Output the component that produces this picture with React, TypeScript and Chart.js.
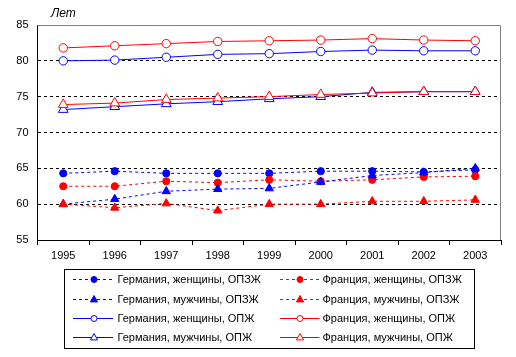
import React, { useEffect, useRef } from "react";
import { Chart, registerables } from "chart.js";

Chart.register(...registerables);

const years = ["1995", "1996", "1997", "1998", "1999", "2000", "2001", "2002", "2003"];
const yTicks = [55, 60, 65, 70, 75, 80, 85];

const deWomenHealthy = [64.3, 64.6, 64.3, 64.3, 64.3, 64.6, 64.6, 64.5, 64.8];
const frWomenHealthy = [62.5, 62.5, 63.2, 63.0, 63.4, 63.2, 63.4, 63.8, 63.9];
const deMenHealthy = [60.0, 60.7, 61.8, 62.1, 62.2, 63.1, 64.0, 64.4, 65.0];
const frMenHealthy = [60.0, 59.5, 60.1, 59.1, 60.0, 60.0, 60.4, 60.4, 60.6];
const deWomenLife = [80.0, 80.1, 80.5, 80.9, 81.0, 81.3, 81.5, 81.4, 81.4];
const frWomenLife = [81.8, 82.1, 82.4, 82.7, 82.8, 82.9, 83.1, 82.9, 82.8];
const deMenLife = [73.2, 73.6, 74.0, 74.3, 74.7, 75.0, 75.6, 75.7, 75.7];
const frMenLife = [73.9, 74.1, 74.6, 74.8, 75.0, 75.3, 75.5, 75.7, 75.7];

const labels = [
  "Германия, женщины, ОПЗЖ",
  "Франция, женщины, ОПЗЖ",
  "Германия, мужчины, ОПЗЖ",
  "Франция, мужчины, ОПЗЖ",
  "Германия, женщины, ОПЖ",
  "Франция, женщины, ОПЖ",
  "Германия, мужчины, ОПЖ",
  "Франция, мужчины, ОПЖ",
];
const axisTitle = "Лет";

const BLUE = "#0000FF";
const RED = "#FF0000";
const FONT = "'Liberation Sans', Arial, sans-serif";

export default function App() {
  const ref = useRef<HTMLCanvasElement | null>(null);

  useEffect(() => {
    if (!ref.current) return;
    const series = [deWomenHealthy, frWomenHealthy, deMenHealthy, frMenHealthy, deWomenLife, frWomenLife, deMenLife, frMenLife];
    const datasets = series.map((data, i) => {
      const color = i % 2 === 0 ? BLUE : RED;
      const healthy = i < 4;
      const tri = i % 4 >= 2;
      return {
        label: labels[i],
        data,
        borderColor: color,
        borderWidth: 1,
        borderDash: healthy ? [3, 3] : [],
        pointStyle: tri ? "triangle" : "circle",
        pointRadius: tri ? (healthy ? 4.8 : 5.6) : healthy ? 3.6 : 4.2,
        pointBackgroundColor: healthy ? color : "#FFFFFF",
        pointBorderColor: color,
        pointBorderWidth: 1,
        tension: 0,
        fill: false,
        order: 10 - i,
        _healthy: healthy,
        _tri: tri,
        _color: color,
      } as any;
    });

    const extras = {
      id: "extras",
      beforeDatasetsDraw(chart: any) {
        const { ctx, chartArea } = chart;
        ctx.save();
        ctx.strokeStyle = "#808080";
        ctx.lineWidth = 1;
        ctx.beginPath();
        ctx.moveTo(chartArea.left, chartArea.top + 0.5);
        ctx.lineTo(chartArea.right - 0.5, chartArea.top + 0.5);
        ctx.lineTo(chartArea.right - 0.5, chartArea.bottom);
        ctx.stroke();
        ctx.restore();
      },
      afterDraw(chart: any) {
        const { ctx } = chart;
        ctx.save();
        // axis title
        ctx.fillStyle = "#000";
        ctx.font = `italic 12px ${FONT}`;
        ctx.textBaseline = "middle";
        ctx.textAlign = "left";
        ctx.fillText(axisTitle, 51, 13.5);
        // legend box
        ctx.strokeStyle = "#000";
        ctx.lineWidth = 1;
        ctx.strokeRect(64.5, 269.5, 410, 79);
        ctx.font = `11px ${FONT}`;
        chart.data.datasets.forEach((ds: any, i: number) => {
          const row = Math.floor(i / 2);
          const col = i % 2;
          const y = Math.round(279.3 + row * 19.2) + 0.5;
          const x0 = col === 0 ? 73 : 280;
          const x1 = col === 0 ? 113 : 319.5;
          const mx = col === 0 ? 94 : 300;
          const tx = col === 0 ? 117.5 : 322.5;
          ctx.strokeStyle = ds._color;
          ctx.lineWidth = 1;
          ctx.setLineDash(ds._healthy ? [3, 3] : []);
          ctx.beginPath();
          ctx.moveTo(x0, y);
          ctx.lineTo(x1, y);
          ctx.stroke();
          ctx.setLineDash([]);
          ctx.fillStyle = ds._healthy ? ds._color : "#FFFFFF";
          ctx.beginPath();
          if (ds._tri) {
            const r = 4;
            ctx.moveTo(mx, y - r);
            ctx.lineTo(mx + r * 0.9, y + r * 0.6);
            ctx.lineTo(mx - r * 0.9, y + r * 0.6);
            ctx.closePath();
          } else {
            ctx.arc(mx, y, 3, 0, Math.PI * 2);
          }
          ctx.fill();
          ctx.stroke();
          ctx.fillStyle = "#000";
          ctx.fillText(ds.label, tx, y + 0.5);
        });
        ctx.restore();
      },
    };

    const chart = new Chart(ref.current, {
      type: "line",
      data: { labels: years, datasets },
      options: {
        animation: false,
        responsive: false,
        devicePixelRatio: 1,
        layout: { padding: { top: 25, right: 15, left: 0, bottom: 0 } },
        plugins: { legend: { display: false }, tooltip: { enabled: false } },
        scales: {
          x: {
            type: "category",
            offset: true,
            afterFit: (s: any) => {
              s.height = 117;
            },
            grid: {
              offset: true,
              drawOnChartArea: false,
              drawTicks: true,
              tickLength: 5,
              color: "#000",
              tickColor: "#000",
            },
            border: { display: true, color: "#000", width: 1 },
            ticks: {
              color: "#000",
              font: { family: FONT, size: 11 },
              padding: 4,
              maxRotation: 0,
              autoSkip: false,
            },
          },
          y: {
            min: 55,
            max: 85,
            afterFit: (s: any) => {
              s.width = 37.5;
            },
            afterBuildTicks: (s: any) => {
              s.ticks = yTicks.map((v) => ({ value: v }));
            },
            grid: {
              drawTicks: false,
              tickLength: 0,
              color: (c: any) =>
                c.tick && (c.tick.value === 55 || c.tick.value === 85) ? "rgba(0,0,0,0)" : "#000",
              lineWidth: 1,
            },
            border: { display: true, color: "#000", width: 1, dash: [3, 3] },
            ticks: {
              color: "#000",
              font: { family: FONT, size: 11 },
              padding: 9,
            },
          },
        },
      } as any,
      plugins: [extras],
    });
    return () => chart.destroy();
  }, []);

  return (
    <div style={{ position: "absolute", left: 0, top: 0, width: 516, height: 357, background: "#fff" }}>
      <canvas ref={ref} width={516} height={357} style={{ display: "block", width: 516, height: 357 }} />
    </div>
  );
}
